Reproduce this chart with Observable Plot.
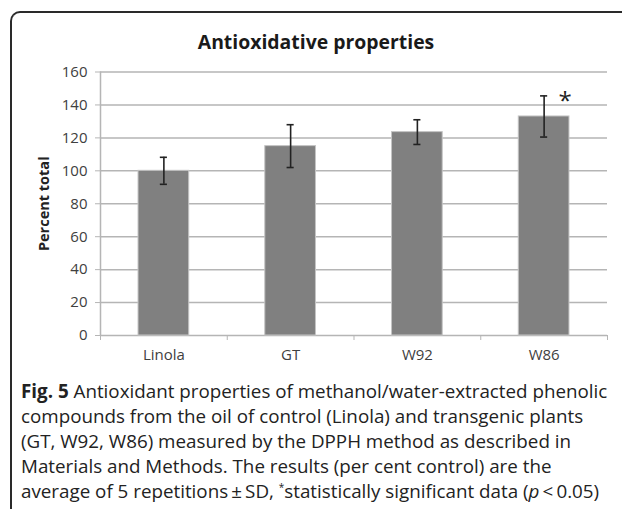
<!DOCTYPE html>
<html><head><meta charset="utf-8">
<script src="https://cdn.jsdelivr.net/npm/d3@7"></script>
<script src="https://cdn.jsdelivr.net/npm/@observablehq/plot@0.6"></script>
<style>
body{margin:0;background:#fff;width:622px;height:511px;overflow:hidden;position:relative;font-family:"Open Sans",sans-serif;}
#frame{position:absolute;left:10px;top:11px;width:640px;height:496px;border-top:2px solid #2a2a2a;border-left:2px solid #2a2a2a;border-top-left-radius:10px;}
#title{position:absolute;top:29px;left:0;width:632px;text-align:center;font-weight:bold;font-size:19.4px;line-height:26px;color:#1a1a1a}
#chart{position:absolute;left:0;top:0}
#caption{position:absolute;left:21px;top:379px;font-size:18.8px;line-height:25px;color:#222;white-space:nowrap}
#caption div{white-space:nowrap}
</style>
</head><body>
<div id="frame"></div>
<div id="chart"></div>
<div id="title">Antioxidative properties</div>
<div id="caption">
<div><b>Fig. 5</b> Antioxidant properties of methanol/water-extracted phenolic</div>
<div>compounds from the oil of control (Linola) and transgenic plants</div>
<div>(GT, W92, W86) measured by the DPPH method as described in</div>
<div>Materials and Methods. The results (per cent control) are the</div>
<div>average of 5 repetitions&#8201;±&#8201;SD, <sup style="font-size:10px;vertical-align:7px;line-height:0">*</sup>statistically significant data (<i>p</i>&#8201;&lt;&#8201;0.05)</div>
</div>
<script>
const categories = ["Linola", "GT", "W92", "W86"];
const means = [100, 115, 123.5, 133];
const sds = [8.2, 13, 7.5, 12.5];
const significant = [false, false, false, true];
const yTicks = [0, 20, 40, 60, 80, 100, 120, 140, 160];

const data = categories.map((c, i) => ({
  cat: c, i, c: i + 0.5, mean: means[i],
  lo: means[i] - sds[i], hi: means[i] + sds[i], sig: significant[i]
}));
const halfBar = 0.2, halfCap = 0.028;
const gridColor = "#b5b5b5";

const chart = Plot.plot({
  width: 622, height: 380,
  marginLeft: 100, marginRight: 15, marginTop: 71.5, marginBottom: 45,
  x: {type: "linear", domain: [0, 4]},
  y: {domain: [0, 160]},
  style: {fontFamily: "'Open Sans', sans-serif", fontSize: "15px", color: "#404040", background: "transparent"},
  marks: [
    Plot.gridY(yTicks, {stroke: gridColor, strokeOpacity: 1, strokeWidth: 1.5}),
    Plot.ruleX([0], {y1: 0, y2: 160, stroke: gridColor, strokeWidth: 1.5}),
    Plot.axisY({ticks: yTicks, tickSize: 5, tickPadding: 8, stroke: gridColor, fill: "#404040", label: null}),
    Plot.axisX({ticks: [0, 1, 2, 3, 4], tickSize: 5, tickFormat: () => "", stroke: gridColor, label: null}),
    Plot.axisX({ticks: data.map(d => d.c), tickSize: 0, tickPadding: 14, tickFormat: v => categories[Math.floor(v)], fill: "#404040", label: null}),
    Plot.rectY(data, {x1: d => d.c - halfBar, x2: d => d.c + halfBar, y: "mean", fill: "#808080", stroke: "#c4c4c4", strokeWidth: 1}),
    Plot.ruleX(data, {x: "c", y1: "lo", y2: "hi", stroke: "#222", strokeWidth: 1.6}),
    Plot.ruleY(data, {x1: d => d.c - halfCap, x2: d => d.c + halfCap, y: "hi", stroke: "#222", strokeWidth: 1.6}),
    Plot.ruleY(data, {x1: d => d.c - halfCap, x2: d => d.c + halfCap, y: "lo", stroke: "#222", strokeWidth: 1.6}),
    Plot.text(data.filter(d => d.sig), {x: "c", y: "hi", text: () => "*", dx: 21, dy: 5, fontSize: 24, fill: "#222"}),
    Plot.text(["Percent total"], {frameAnchor: "left", textAnchor: "middle", rotate: -90, dx: -56, fontWeight: "bold", fontSize: 14.5, fill: "#222"})
  ]
});
document.getElementById("chart").appendChild(chart);
</script>
</body></html>
